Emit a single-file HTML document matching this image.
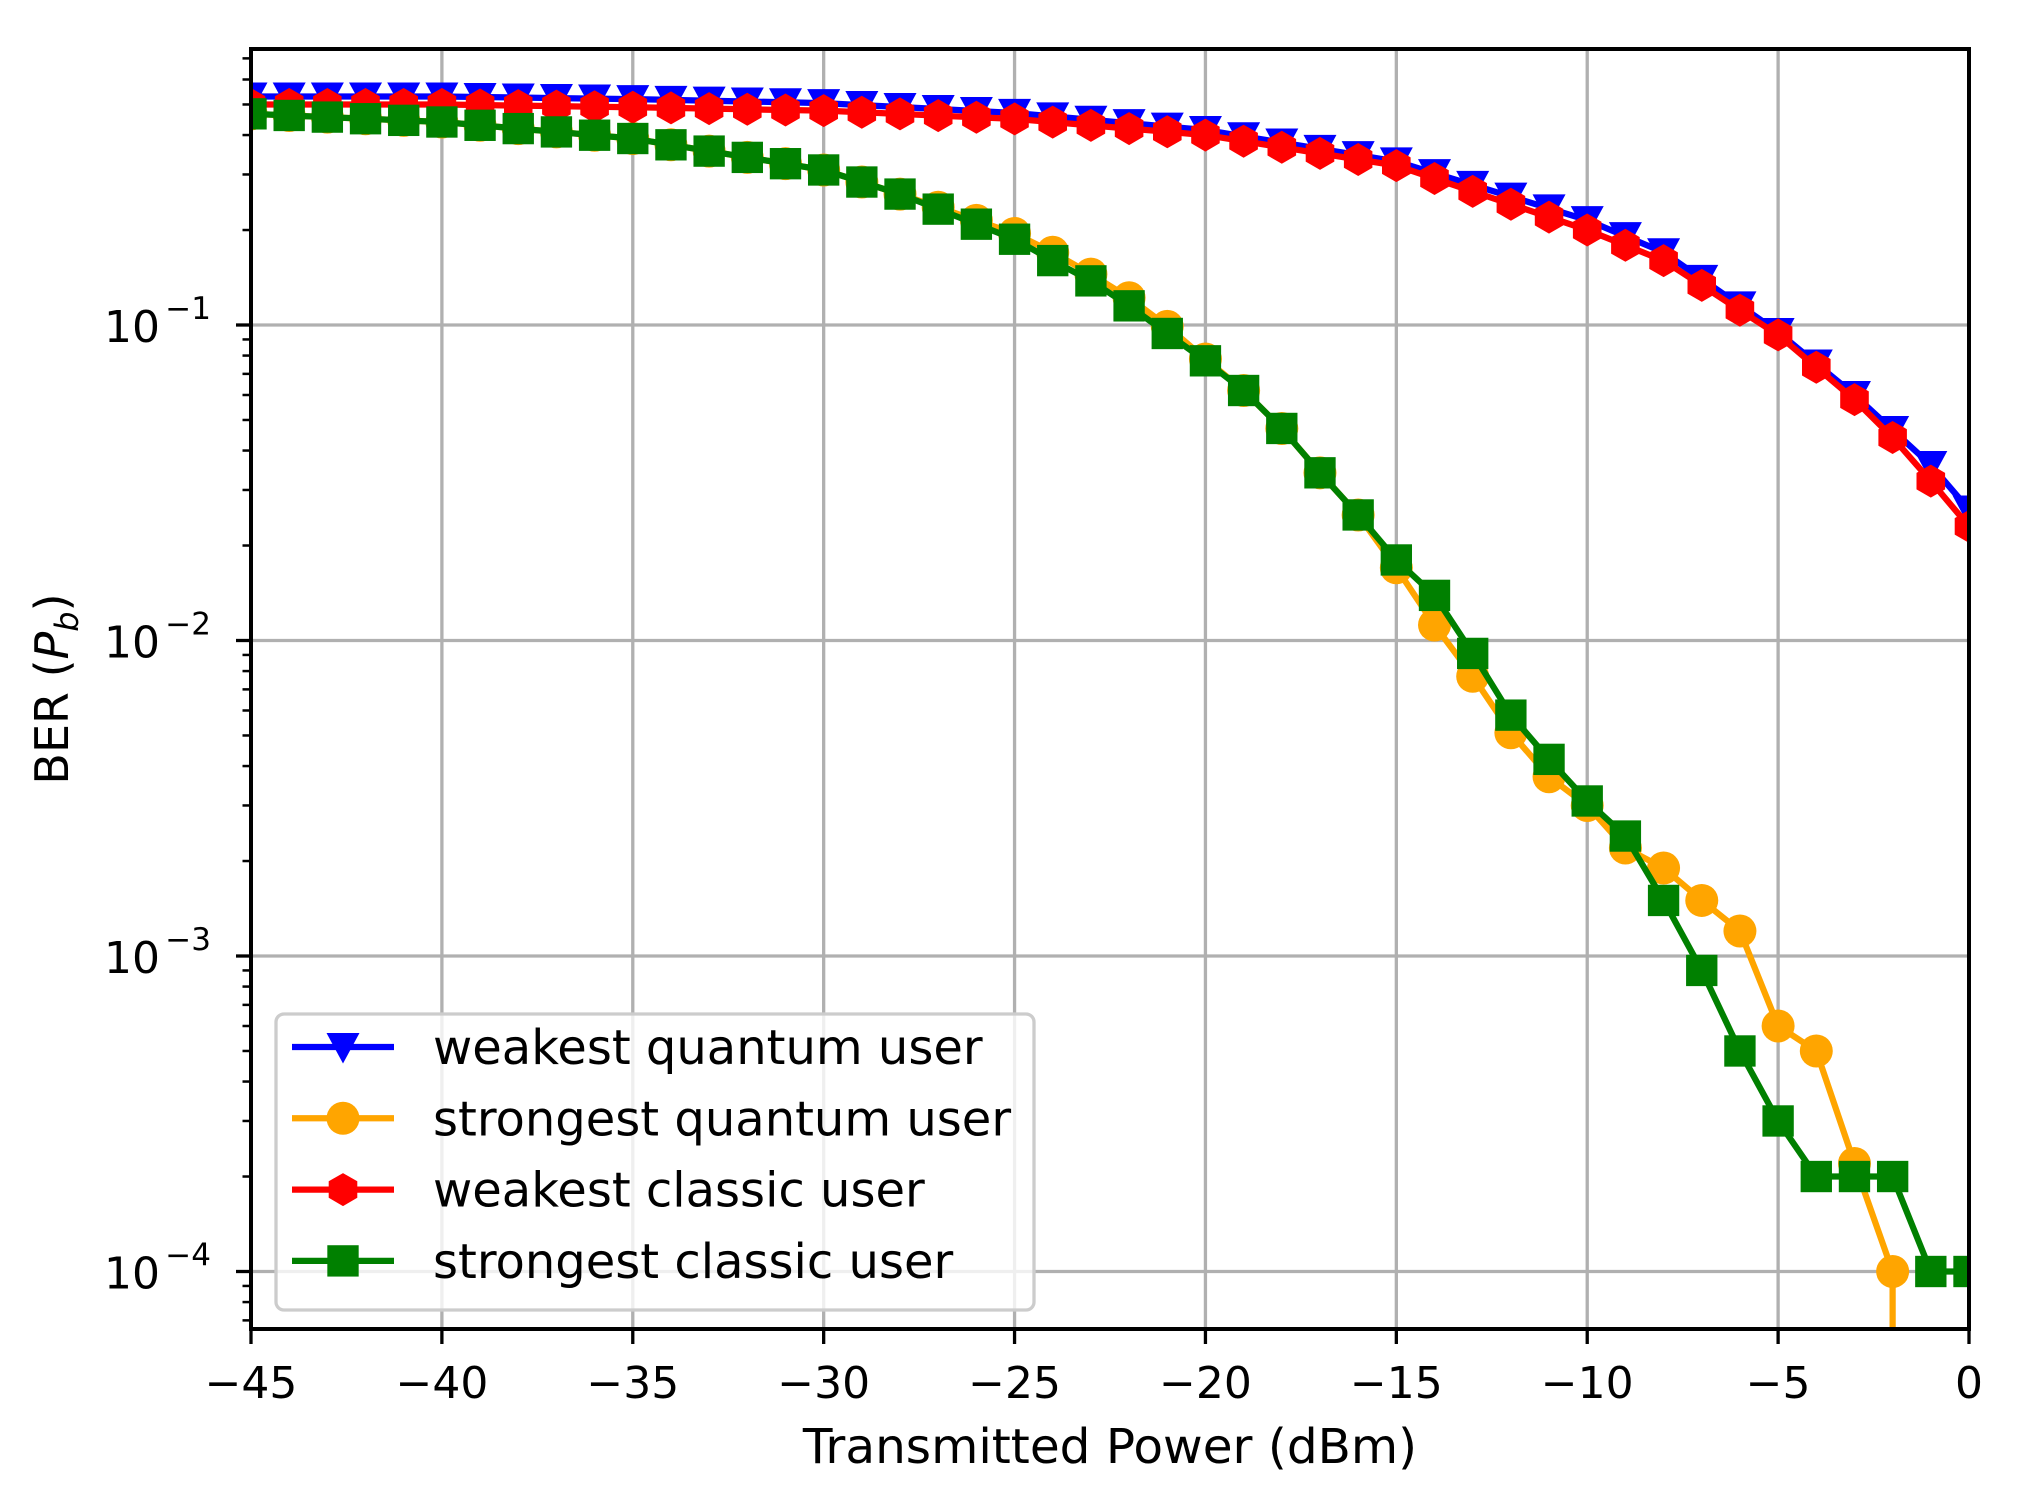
<!DOCTYPE html>
<html><head><meta charset="utf-8"><style>
html,body{margin:0;padding:0;background:#fff}
svg{display:block}
text{font-family:"DejaVu Sans","Liberation Sans",sans-serif;fill:#000}
</style></head><body>
<svg id="s" width="2028" height="1510" viewBox="0 0 2028 1510" xmlns="http://www.w3.org/2000/svg"></svg>
<script>
const L=251,R=1969,T=49,B=1329;
const X=x=>L+(x+45)*(R-L)/45;
const Y=v=>325-315.5*(Math.log10(v)+1);
let s='';
s+='<defs><clipPath id="c"><rect x="'+L+'" y="'+T+'" width="'+(R-L)+'" height="'+(B-T)+'"/></clipPath></defs>';
for(let x=-45;x<=0;x+=5){s+=`<line x1="${X(x)}" y1="${T}" x2="${X(x)}" y2="${B}" stroke="#b0b0b0" stroke-width="3.3"/>`;}
for(let e=-1;e>=-4;e--){const y=Y(Math.pow(10,e));s+=`<line x1="${L}" y1="${y}" x2="${R}" y2="${y}" stroke="#b0b0b0" stroke-width="3.3"/>`;}
function interp(anch){const xs=Object.keys(anch).map(Number).sort((a,b)=>a-b);const out=[];
for(let x=-45;x<=0;x++){let i=0;while(i<xs.length-1&&xs[i+1]<x)i++;const a=xs[i],b=xs[Math.min(i+1,xs.length-1)];
let v;if(a===b||x<=a)v=anch[a];else{const t=(x-a)/(b-a);v=Math.pow(10,Math.log10(anch[a])*(1-t)+Math.log10(anch[b])*t);}out.push([x,v]);}return out;}
const blue=interp({'-45':0.53,'-40':0.53,'-35':0.52,'-30':0.505,'-25':0.47,'-20':0.415,'-15':0.33,'-10':0.215,'-8':0.17,'-5':0.095,'-3':0.06,'-1':0.036,'0':0.026});
const red=interp({'-45':0.5,'-40':0.5,'-35':0.49,'-30':0.478,'-25':0.45,'-20':0.40,'-15':0.32,'-10':0.2,'-8':0.16,'-5':0.093,'-3':0.058,'-2':0.044,'-1':0.032,'0':0.023});
const gA={'-45':0.467,'-40':0.44,'-35':0.39,'-30':0.31,'-28':0.26,'-25':0.187,'-24':0.16,'-23':0.138,'-22':0.115,'-21':0.094,'-20':0.077,'-19':0.062,'-18':0.047,'-17':0.034,'-16':0.025,'-15':0.018,'-14':0.0139,'-13':0.0091,'-12':0.0058,'-11':0.0042,'-10':0.0031,'-9':0.0024,'-8':0.0015,'-7':0.0009,'-6':0.0005,'-5':0.0003,'-4':0.0002,'-3':0.0002,'-2':0.0002,'-1':0.0001,'0':0.0001};
const green=interp(gA);
const oA=Object.assign({},gA,{'-25':0.195,'-24':0.17,'-23':0.145,'-22':0.122,'-21':0.099,'-20':0.078,'-15':0.017,'-14':0.0112,'-13':0.0077,'-12':0.0051,'-11':0.0037,'-10':0.003,'-9':0.0022,'-8':0.0019,'-7':0.0015,'-6':0.0012,'-5':0.0006,'-4':0.0005,'-3':0.00022,'-2':0.0001});
delete oA['-1'];delete oA['0'];
const orange=interp(oA).filter(p=>p[0]<=-2);
function line(pts,col,extra){let d=pts.map((p,i)=>(i?'L':'M')+X(p[0]).toFixed(1)+' '+Y(p[1]).toFixed(1)).join(' ');if(extra)d+=extra;return `<path d="${d}" fill="none" stroke="${col}" stroke-width="6.25" stroke-linejoin="round" clip-path="url(#c)"/>`;}
const ms=16.5;
function tri(x,y,c){return `<path d="M${x-ms} ${y-ms*0.85}L${x+ms} ${y-ms*0.85}L${x} ${y+ms}Z" fill="${c}"/>`;}
function circ(x,y,c){return `<circle cx="${x}" cy="${y}" r="${ms}" fill="${c}"/>`;}
function hex(x,y,c){let p=[];for(let k=0;k<6;k++){const a=Math.PI/2+k*Math.PI/3;p.push((x+ms*Math.cos(a)).toFixed(1)+','+(y-ms*Math.sin(a)).toFixed(1));}return `<polygon points="${p.join(' ')}" fill="${c}"/>`;}
function sq(x,y,c){const h=ms*0.95;return `<rect x="${x-h}" y="${y-h}" width="${2*h}" height="${2*h}" fill="${c}"/>`;}
function series(pts,col,mk,extra){let g='<g clip-path="url(#c)">'+line(pts,col,extra);pts.forEach(p=>{g+=mk(X(p[0]),Y(p[1]),col);});return g+'</g>';}
s+=series(blue,'#0000ff',tri);
s+=series(orange,'#ffa500',circ,' L'+X(-2)+' '+(B+20));
s+=series(red,'#ff0000',hex);
s+=series(green,'#008000',sq);
s+=`<rect x="${L}" y="${T}" width="${R-L}" height="${B-T}" fill="none" stroke="#000" stroke-width="4"/>`;
for(let x=-45;x<=0;x+=5){const px=X(x);s+=`<line x1="${px}" y1="${B}" x2="${px}" y2="${B+15}" stroke="#000" stroke-width="3.3"/>`;
s+=`<text x="${px}" y="${B+69}" font-size="44" text-anchor="middle">${x<0?'−'+(-x):x}</text>`;}
for(let e=-5;e<=0;e++){for(let m=1;m<=9;m++){const v=m*Math.pow(10,e);const y=Y(v);if(y<T-1||y>B+1)continue;
if(m===1){s+=`<line x1="${L}" y1="${y}" x2="${L-15}" y2="${y}" stroke="#000" stroke-width="3.3"/>`;
s+=`<text x="160" y="${y+17}" font-size="44" text-anchor="end">10</text><text x="211" y="${y-6}" font-size="31" text-anchor="end">−${-e}</text>`;}
else s+=`<line x1="${L}" y1="${y}" x2="${L-8.5}" y2="${y}" stroke="#000" stroke-width="2.5"/>`;}}
s+=`<text x="${(L+R)/2}" y="1463" font-size="48.5" text-anchor="middle">Transmitted Power (dBm)</text>`;
s+=`<text transform="translate(68,${(T+B)/2}) rotate(-90)" font-size="46" text-anchor="middle">BER (<tspan font-style="italic">P</tspan><tspan font-style="italic" font-size="32" dy="10">b</tspan><tspan dy="-10">)</tspan></text>`;
s+=`<rect x="276" y="1014" width="758" height="296" rx="8" fill="#fff" fill-opacity="0.8" stroke="#cccccc" stroke-width="3.3"/>`;
const items=[['#0000ff',tri,'weakest quantum user'],['#ffa500',circ,'strongest quantum user'],['#ff0000',hex,'weakest classic user'],['#008000',sq,'strongest classic user']];
items.forEach((it,i)=>{const y=1047+i*71.3;s+=`<line x1="292" y1="${y}" x2="394" y2="${y}" stroke="${it[0]}" stroke-width="6.25"/>`+it[1](343,y,it[0]);
s+=`<text x="433" y="${y+17}" font-size="48">${it[2]}</text>`;});
document.getElementById('s').innerHTML=s;
</script>
</body></html>
